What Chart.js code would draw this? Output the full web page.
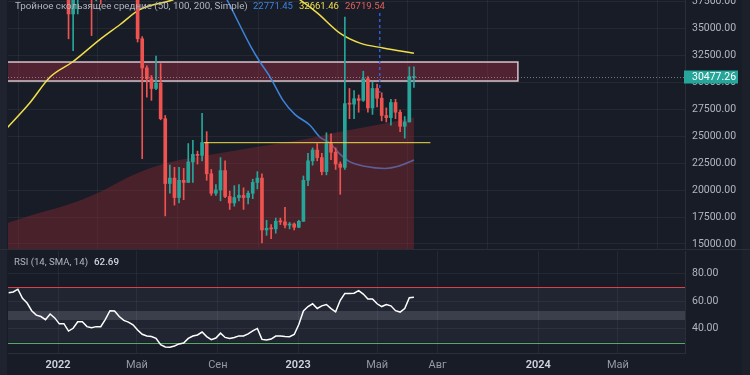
<!DOCTYPE html>
<html>
<head>
<meta charset="utf-8">
<script src="https://cdn.jsdelivr.net/npm/chart.js@4.4.0/dist/chart.umd.min.js"></script>
<style>
  html, body { margin: 0; padding: 0; background: #181c27; }
  #wrap { position: relative; width: 750px; height: 375px; overflow: hidden; }
  canvas { position: absolute; left: 0; }
  #price { top: 0; }
  #rsi { top: 250px; }
</style>
</head>
<body>
<div id="wrap">
  <canvas id="price" width="750" height="250"></canvas>
  <canvas id="rsi" width="750" height="125"></canvas>
</div>
<script>
// weekly candles
const weeks = [
  '2021-10-18','2021-10-25','2021-11-01','2021-11-08','2021-11-15','2021-11-22','2021-11-29','2021-12-06','2021-12-13','2021-12-20','2021-12-27',
  '2022-01-03','2022-01-10','2022-01-17','2022-01-24','2022-01-31','2022-02-07','2022-02-14','2022-02-21','2022-02-28','2022-03-07','2022-03-14',
  '2022-03-21','2022-03-28','2022-04-04','2022-04-11','2022-04-18','2022-04-25','2022-05-02','2022-05-09','2022-05-16','2022-05-23','2022-05-30',
  '2022-06-06','2022-06-13','2022-06-20','2022-06-27','2022-07-04','2022-07-11','2022-07-18','2022-07-25','2022-08-01','2022-08-08','2022-08-15',
  '2022-08-22','2022-08-29','2022-09-05','2022-09-12','2022-09-19','2022-09-26','2022-10-03','2022-10-10','2022-10-17','2022-10-24','2022-10-31',
  '2022-11-07','2022-11-14','2022-11-21','2022-11-28','2022-12-05','2022-12-12','2022-12-19','2022-12-26',
  '2023-01-02','2023-01-09','2023-01-16','2023-01-23','2023-01-30','2023-02-06','2023-02-13','2023-02-20','2023-02-27','2023-03-06','2023-03-13',
  '2023-03-20','2023-03-27','2023-04-03','2023-04-10','2023-04-17','2023-04-24','2023-05-01','2023-05-08','2023-05-15','2023-05-22','2023-05-29',
  '2023-06-05','2023-06-12','2023-06-19','2023-06-26'
];
const opens = [
  61500,60900,61300,63300,65500,59700,57300,49400,48900,46700,50800,
  46200,41900,43100,36300,37900,42400,42200,38400,37700,38800,37800,
  41300,46800,46400,42200,39700,39400,38500,34000,31300,30300,29400,
  29900,26600,20600,21100,19300,20900,20700,22600,23300,23200,24400,
  21500,19700,20000,21800,19400,18800,19300,19500,19300,19700,20700,
  21100,16300,16450,16400,17100,17050,16750,16850,
  16550,17100,20900,22700,23700,23000,21700,24300,23500,22400,22100,
  28000,27950,28450,28300,30300,27600,29400,28500,26900,26700,28100,
  27200,25900,26300,30420
];
const highs = [
  67000,63700,64300,69000,66300,59900,59200,51900,49500,52000,52100,
  47500,44500,43500,38900,42600,45800,44700,40000,45400,42600,42300,
  47000,48200,47400,42400,42900,40800,40000,34200,31500,30600,32400,
  31700,26900,22300,22100,22100,22000,24300,24600,23600,27100,25400,
  21900,20500,23000,22700,19900,20400,20500,20200,19900,21000,21700,
  21500,17200,16800,17400,17400,18400,17000,16950,
  17200,21300,23400,23900,24300,23400,25300,25200,23900,22600,36000,
  29400,29200,28800,31000,30500,30000,29800,29000,27600,28400,28400,
  27400,26800,31400,31400
];
const lows = [
  59500,58000,59400,62300,55600,53300,42000,47100,45500,45600,45700,
  40500,39600,34000,32900,36300,41700,38000,34300,37500,37200,37600,
  40500,44200,42100,39200,38500,37700,33700,22900,28600,28300,29300,
  26500,17600,19700,18600,18800,19100,20700,20700,22400,22700,20900,
  19500,19500,19000,19300,18200,18500,19000,18200,18700,19200,20100,
  15100,15800,15500,16000,16800,16500,16400,16300,
  16500,17100,20400,22300,22700,21400,21400,22800,21900,19600,21900,
  26600,26600,27200,28200,27200,27000,27700,26400,26300,26000,26600,
  25400,24800,26300,29500
];
const closes = [
  60900,61300,63300,65500,59700,57300,49400,48900,46700,50800,46200,
  41900,43100,36300,37900,42400,42200,38400,37700,38800,37800,41300,
  46800,46400,42200,39700,39400,38500,34000,31300,30300,29400,29900,
  26600,20600,21100,19300,20900,20700,22600,23300,23200,24400,21500,
  19700,20000,21800,19400,18800,19300,19500,19300,19700,20700,21100,
  16300,16450,16400,17100,17050,16750,16850,16550,
  17100,20900,22700,23700,23000,21700,24300,23500,22400,22100,28000,
  27950,28450,28300,30300,27600,29400,28500,26900,26700,28100,27200,
  25900,26300,30500,30477.26
];
const rsiValues = [
  66.0,66.5,68.5,62.0,58.5,53.0,49.8,48.8,46.5,50.6,47.8,
  43.5,43.6,38.3,40.3,45.0,45.0,41.5,40.7,41.5,41.5,46.8,
  53.0,52.8,48.8,46.0,44.8,42.8,39.0,36.0,34.7,34.4,33.0,
  28.5,26.8,26.6,27.5,29.0,29.6,33.0,34.7,35.5,37.6,34.3,
  32.1,33.3,36.8,33.7,33.0,33.6,34.8,34.7,36.2,38.5,40.2,
  32.3,31.8,32.5,34.7,34.7,34.3,34.2,35.8,
  43.0,52.8,56.0,58.0,54.6,56.5,57.5,54.5,52.2,60.5,65.5,
  65.5,65.6,67.5,65.0,61.5,61.5,58.0,56.0,57.5,56.5,53.0,
  52.0,54.5,62.4,62.69
];

// moving averages
const ma50Dates = ['2022-09-01','2022-09-15','2022-10-04','2022-10-20','2022-11-04','2022-11-19','2022-12-09','2022-12-27',
  '2023-01-19','2023-02-03','2023-02-18','2023-03-06','2023-03-21','2023-04-12','2023-05-13','2023-06-02','2023-06-26'];
const ma50Values = [39000,37600,35300,33400,31850,30500,28300,27000,26000,24900,24350,23300,22600,22200,22000,22200,22771.45];

const ma100Dates = ['2021-10-04','2021-11-19','2021-12-20','2022-01-23','2022-03-05','2022-04-05','2022-05-05','2022-06-24',
  '2022-08-05','2022-10-20','2022-12-12','2023-01-04','2023-01-30','2023-03-06','2023-04-05','2023-05-10','2023-06-26'];
const ma100Values = [25000,28060,30460,31850,33900,35300,36700,37600,38600,39000,38500,37600,36400,34500,33600,33150,32661.46];

const ma200Dates = ['2021-10-04','2021-11-24','2022-01-14','2022-03-05','2022-04-25','2022-06-15','2022-08-05','2022-10-20',
  '2023-01-11','2023-03-06','2023-04-28','2023-06-26'];
const ma200Values = [16700,17700,18600,19800,21400,22500,23100,23900,24700,25400,26000,26719.54];

const maTitle = 'Тройное скользящее средние (50, 100, 200, Simple)';
const rsiTitle = 'RSI (14, SMA, 14)';

// drawings
const zoneFrom = '2021-09-01', zoneTo = '2023-12-01';
const zoneTop = 31850, zoneBottom = 30090;
const levelFrom = '2022-08-11', levelTo = '2023-07-21', levelValue = 24380;
const markerDate = '2023-05-05', markerLow = 29000, markerHigh = 36400;
const lastPrice = 30477.26;

// axes
const viewFrom = '2021-10-17', viewTo = '2024-08-11';
const priceMin = 14537, priceMax = 37593;
const priceTicks = [15000, 17500, 20000, 22500, 25000, 27500, 30000, 32500, 35000, 37500];
const rsiMin = 22.46, rsiMax = 96.1;
const rsiTicks = [40, 60, 80];
const rsiUpper = 70, rsiLower = 30, rsiMid = [46.3, 52.8];
const timeTickDates = ['2022-01-01','2022-05-01','2022-09-01','2023-01-01','2023-05-01','2023-08-01','2024-01-01','2024-05-01'];
const timeTickLabels = ['2022','Май','Сен','2023','Май','Авг','2024','Май'];

const bg = '#181c27';
const gridColor = 'rgba(255,255,255,0.055)';
const up = '#26a69a', down = '#ef5350';
const blue = '#3d84dc', yellow = '#f0df4a', red = '#e0605a';
const FONT = 'Roboto, "Noto Sans", sans-serif';

function dayOf(s) {
  const p = s.split('-').map(Number);
  return (Date.UTC(p[0], p[1] - 1, p[2]) - Date.UTC(2022, 0, 1)) / 86400000;
}
function points(dates, values) {
  return dates.map((d, i) => ({ x: dayOf(d), y: values[i] }));
}
function candleColor(c) {
  return closes[c.dataIndex] >= opens[c.dataIndex] ? up : down;
}
// pick a font size so that text spans the given width
function fitFont(ctx, text, width, weight) {
  ctx.font = (weight || '400') + ' 20px ' + FONT;
  const size = 20 * width / ctx.measureText(text).width;
  ctx.font = (weight || '400') + ' ' + size.toFixed(2) + 'px ' + FONT;
}

const xCommon = {
  type: 'linear',
  min: dayOf(viewFrom),
  max: dayOf(viewTo),
  offset: false,
  grid: { color: gridColor, drawTicks: false },
  afterBuildTicks: s => { s.ticks = timeTickDates.map(d => ({ value: dayOf(d) })); }
};

const pricePanel = {
  id: 'pricePanel',
  beforeDraw(chart) {
    const ctx = chart.ctx;
    ctx.save();
    ctx.fillStyle = bg;
    ctx.fillRect(0, 0, chart.width, chart.height);
    ctx.fillStyle = '#1f2330';
    ctx.fillRect(0, 0, 7, chart.height);
    ctx.fillStyle = '#1c202b';
    ctx.fillRect(742, 0, 8, chart.height);
    ctx.restore();
  },
  beforeDatasetsDraw(chart) {
    const { ctx, chartArea: a, scales: { x, y } } = chart;
    ctx.save();
    ctx.beginPath();
    ctx.rect(a.left, a.top, a.right - a.left, a.bottom - a.top);
    ctx.clip();
    const x0 = x.getPixelForValue(dayOf(zoneFrom)), x1 = x.getPixelForValue(dayOf(zoneTo));
    const y0 = y.getPixelForValue(zoneTop), y1 = y.getPixelForValue(zoneBottom);
    ctx.fillStyle = 'rgba(150,45,65,0.45)';
    ctx.fillRect(x0, y0, x1 - x0, y1 - y0);
    ctx.strokeStyle = '#d6c4cc';
    ctx.lineWidth = 1.5;
    ctx.strokeRect(x0, y0, x1 - x0, y1 - y0);
    ctx.restore();
  },
  afterDatasetsDraw(chart) {
    const { ctx, chartArea: a, scales: { x, y } } = chart;
    ctx.save();
    ctx.beginPath();
    ctx.rect(a.left, a.top, a.right - a.left, a.bottom - a.top);
    ctx.clip();
    // horizontal level
    const ly = y.getPixelForValue(levelValue);
    ctx.strokeStyle = yellow;
    ctx.lineWidth = 1;
    ctx.beginPath();
    ctx.moveTo(x.getPixelForValue(dayOf(levelFrom)), ly);
    ctx.lineTo(x.getPixelForValue(dayOf(levelTo)), ly);
    ctx.stroke();
    // vertical dashed marker
    const mx = x.getPixelForValue(dayOf(markerDate));
    ctx.strokeStyle = 'rgba(50,100,230,0.9)';
    ctx.lineWidth = 1.5;
    ctx.setLineDash([3, 3]);
    ctx.beginPath();
    ctx.moveTo(mx, y.getPixelForValue(markerHigh));
    ctx.lineTo(mx, y.getPixelForValue(markerLow));
    ctx.stroke();
    // last price line
    const py = Math.round(y.getPixelForValue(lastPrice)) + 0.5;
    ctx.strokeStyle = 'rgba(170,180,190,0.6)';
    ctx.lineWidth = 1;
    ctx.setLineDash([1, 2]);
    ctx.beginPath();
    ctx.moveTo(a.left, py);
    ctx.lineTo(a.right, py);
    ctx.stroke();
    ctx.restore();

    // price label
    ctx.save();
    ctx.fillStyle = up;
    ctx.fillRect(a.right - 1, py - 7, 54, 13);
    ctx.fillStyle = '#ffffff';
    ctx.font = '10.5px ' + FONT;
    ctx.textBaseline = 'middle';
    ctx.textAlign = 'left';
    ctx.fillText(lastPrice.toFixed(2), a.right + 7, py);
    // legend
    fitFont(ctx, maTitle, 233);
    ctx.fillStyle = '#b2b5be';
    ctx.fillText(maTitle, 15, 7);
    const last = [ma50Values, ma100Values, ma200Values].map(v => v[v.length - 1].toFixed(2));
    fitFont(ctx, last[0], 40);
    let tx = 253;
    [blue, yellow, red].forEach((col, i) => {
      ctx.fillStyle = col;
      ctx.fillText(last[i], tx, 7);
      tx += ctx.measureText(last[i]).width + 6;
    });
    // pane separator
    ctx.fillStyle = '#2a2e39';
    ctx.fillRect(0, chart.height - 1, chart.width, 1);
    ctx.restore();
  }
};

new Chart(document.getElementById('price'), {
  type: 'line',
  data: {
    datasets: [
      {
        type: 'bar',
        data: weeks.map((w, i) => ({ x: dayOf(w), y: [opens[i], closes[i]] })),
        backgroundColor: candleColor,
        barThickness: 3,
        minBarLength: 1,
        grouped: false,
        order: 0
      },
      {
        type: 'bar',
        data: weeks.map((w, i) => ({ x: dayOf(w), y: [lows[i], highs[i]] })),
        backgroundColor: candleColor,
        barThickness: 1,
        grouped: false,
        order: 1
      },
      {
        data: points(ma100Dates, ma100Values),
        borderColor: yellow,
        borderWidth: 1.5,
        pointRadius: 0,
        cubicInterpolationMode: 'monotone',
        order: 2
      },
      {
        data: points(ma200Dates, ma200Values),
        borderColor: 'rgba(0,0,0,0)',
        borderWidth: 0,
        backgroundColor: 'rgba(140,40,50,0.42)',
        fill: 'start',
        pointRadius: 0,
        cubicInterpolationMode: 'monotone',
        order: 3
      },
      {
        data: points(ma50Dates, ma50Values),
        borderColor: blue,
        borderWidth: 1.5,
        pointRadius: 0,
        cubicInterpolationMode: 'monotone',
        order: 4
      }
    ]
  },
  options: {
    responsive: false,
    animation: false,
    devicePixelRatio: 1,
    layout: { padding: { left: 8, top: 0, right: 0, bottom: 1 } },
    plugins: { legend: { display: false }, tooltip: { enabled: false } },
    scales: {
      x: Object.assign({}, xCommon, {
        border: { display: false },
        ticks: { display: false },
        afterFit: s => { s.height = 0; s.paddingLeft = 0; s.paddingRight = 0; }
      }),
      y: {
        position: 'right',
        min: priceMin,
        max: priceMax,
        grid: { color: gridColor, drawTicks: false },
        border: { color: '#2a2e39' },
        ticks: { color: '#b2b5be', font: { size: 10.5, family: FONT }, padding: 7, autoSkip: false, callback: v => v.toFixed(2) },
        afterBuildTicks: s => { s.ticks = priceTicks.map(v => ({ value: v })); },
        afterFit: s => { s.width = 65; s.paddingTop = 0; s.paddingBottom = 0; }
      }
    }
  },
  plugins: [pricePanel]
});

const rsiPanel = {
  id: 'rsiPanel',
  beforeDraw(chart) {
    const { ctx, chartArea: a, scales: { y } } = chart;
    ctx.save();
    ctx.fillStyle = bg;
    ctx.fillRect(0, 0, chart.width, chart.height);
    ctx.fillStyle = '#1f2330';
    ctx.fillRect(0, 0, 7, chart.height);
    ctx.fillStyle = '#1c202b';
    ctx.fillRect(742, 0, 8, chart.height);
    const yu = y.getPixelForValue(rsiUpper), yl = y.getPixelForValue(rsiLower);
    ctx.fillStyle = 'rgba(130,135,150,0.09)';
    ctx.fillRect(a.left, yu, a.right - a.left, yl - yu);
    const m0 = y.getPixelForValue(rsiMid[1]), m1 = y.getPixelForValue(rsiMid[0]);
    ctx.fillStyle = 'rgba(130,134,146,0.28)';
    ctx.fillRect(a.left, m0, a.right - a.left, m1 - m0);
    ctx.restore();
  },
  beforeDatasetsDraw(chart) {
    const { ctx, chartArea: a, scales: { y } } = chart;
    ctx.save();
    // overbought / oversold levels
    ctx.fillStyle = '#d9424b';
    ctx.fillRect(a.left, Math.round(y.getPixelForValue(rsiUpper)), a.right - a.left, 1);
    ctx.fillStyle = '#55a866';
    ctx.fillRect(a.left, Math.round(y.getPixelForValue(rsiLower)), a.right - a.left, 1);
    ctx.restore();
  },
  afterDraw(chart) {
    const ctx = chart.ctx;
    ctx.save();
    ctx.textBaseline = 'middle';
    fitFont(ctx, rsiTitle, 74);
    ctx.fillStyle = '#b2b5be';
    ctx.fillText(rsiTitle, 14, 13);
    const val = rsiValues[rsiValues.length - 1].toFixed(2);
    fitFont(ctx, val, 25, '500');
    ctx.fillStyle = '#d1d4dc';
    ctx.fillText(val, 94, 13);
    ctx.restore();
  }
};

new Chart(document.getElementById('rsi'), {
  type: 'line',
  data: {
    datasets: [{
      data: weeks.map((w, i) => ({ x: dayOf(w), y: rsiValues[i] })),
      borderColor: '#ffffff',
      borderWidth: 1.5,
      pointRadius: 0,
      tension: 0
    }]
  },
  options: {
    responsive: false,
    animation: false,
    devicePixelRatio: 1,
    layout: { padding: { left: 8, top: 1, right: 0, bottom: 0 } },
    plugins: { legend: { display: false }, tooltip: { enabled: false } },
    scales: {
      x: Object.assign({}, xCommon, {
        border: { display: true, color: '#2a2e39' },
        ticks: {
          padding: 6,
          autoSkip: false,
          maxRotation: 0,
          color: c => /^\d{4}$/.test(timeTickLabels[c.index]) ? '#d1d4dc' : '#9598a1',
          font: c => ({ size: 11, family: FONT, weight: /^\d{4}$/.test(timeTickLabels[c.index]) ? '600' : '400' }),
          callback: (v, i) => timeTickLabels[i]
        },
        afterFit: s => { s.height = 22; s.paddingLeft = 0; s.paddingRight = 0; }
      }),
      y: {
        position: 'right',
        min: rsiMin,
        max: rsiMax,
        grid: { color: gridColor, drawTicks: false },
        border: { color: '#2a2e39' },
        ticks: { color: '#b2b5be', font: { size: 10.5, family: FONT }, padding: 7, callback: v => v.toFixed(2) },
        afterBuildTicks: s => { s.ticks = rsiTicks.map(v => ({ value: v })); },
        afterFit: s => { s.width = 65; s.paddingTop = 0; s.paddingBottom = 0; }
      }
    }
  },
  plugins: [rsiPanel]
});
</script>
</body>
</html>
